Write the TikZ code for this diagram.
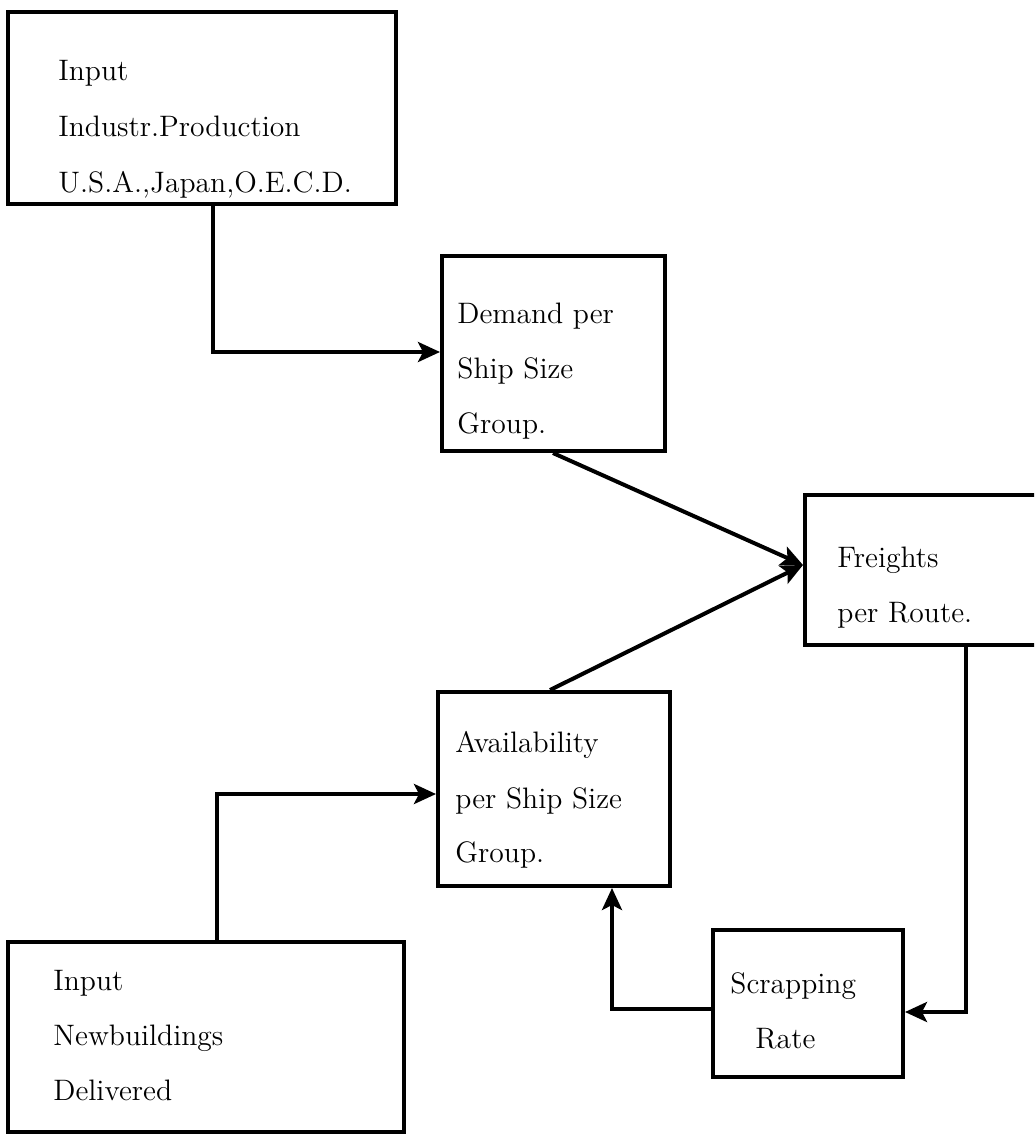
\documentclass[tikz,border=0pt]{standalone}
\usetikzlibrary{arrows.meta}
\begin{document}
\begin{tikzpicture}[x=0.5pt,y=-0.5pt,
  box/.style={draw,line width=2pt,rectangle,inner sep=0pt},
  txt/.style={anchor=base west,inner sep=0pt,font=\fontsize{14.8}{17}\selectfont},
  arr/.style={line width=2pt,-{Stealth[length=11pt,width=10pt,inset=2.5pt]}}]
\useasboundingbox (0,0) rectangle (1036,1136);
\clip (-10,-10) rectangle (1034,1146);
% boxes
\node[box,minimum width=194pt,minimum height=96pt] (box1) at (202,108) {};
\node[box,minimum width=111.5pt,minimum height=97.5pt] (demand) at (553.5,353.5) {};
\node[box,minimum width=200pt,minimum height=75pt] (freights) at (1005,570) {};
\node[box,minimum width=116pt,minimum height=97pt] (avail) at (554,789) {};
\node[box,minimum width=198pt,minimum height=95pt] (newb) at (206,1037) {};
\node[box,minimum width=95pt,minimum height=73.5pt] (scrap) at (808,1003.5) {};
% texts
\node[txt] (t1a) at (58,80) {Input};
\node[txt] (t1b) at (58,136) {Industr.Production};
\node[txt] (t1c) at (58,192) {U.S.A.,Japan,O.E.C.D.};
\node[txt] (t2a) at (457,323) {Demand per};
\node[txt] (t2b) at (457,378) {Ship Size};
\node[txt] (t2c) at (457,433) {Group.};
\node[txt] (t3a) at (837,567) {Freights};
\node[txt] (t3b) at (837,622) {per Route.};
\node[txt] (t4a) at (455,752) {Availability};
\node[txt] (t4b) at (455,808) {per Ship Size};
\node[txt] (t4c) at (455,862) {Group.};
\node[txt] (t5a) at (53,990) {Input};
\node[txt] (t5b) at (53,1045) {Newbuildings};
\node[txt] (t5c) at (53,1100) {Delivered};
\node[txt] (t6a) at (730,993) {Scrapping};
\node[txt] (t6b) at (755,1048) {Rate};
% connector helper coordinates
\coordinate (k1) at (213,352);
\coordinate (k2) at (553,0);
\coordinate (k3) at (0,565);
\coordinate (k4) at (550,0);
\coordinate (k5) at (966,1012);
\coordinate (k6) at (612,1009);
\coordinate (k7) at (217,794);
% connectors
\draw[arr] (box1.south -| k1) |- (demand.west |- k1);
\draw[arr] (demand.south -| k2) -- (freights.west |- k3);
\draw[arr] (avail.north -| k4) -- (freights.west |- k3);
\draw[arr] (freights.south -| k5) |- (scrap.east |- k5);
\draw[arr] (scrap.west |- k6) -| (avail.south -| k6);
\draw[arr] (newb.north -| k7) |- (avail.west |- k7);
\end{tikzpicture}
\end{document}
